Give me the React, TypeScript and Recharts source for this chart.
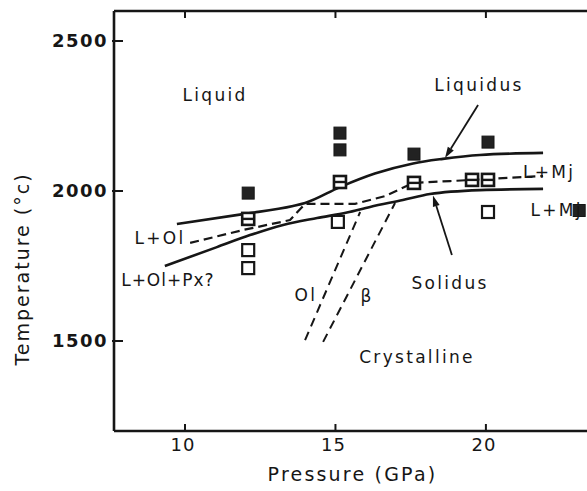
import React from 'react';
import {
  ComposedChart,
  Line,
  Scatter,
  XAxis,
  YAxis,
  ReferenceLine,
  ReferenceDot,
} from 'recharts';

// Axis ticks
const pressureTicks = [10, 15, 20];
const temperatureTicks = [1500, 2000, 2500];
const frameTop = 2600;

// Phase boundaries (P in GPa, T in °C)
const liquidus = [
  { p: 9.73, t: 1890 },
  { p: 11.93, t: 1923 },
  { p: 13.59, t: 1950 },
  { p: 13.99, t: 1960 },
  { p: 15.15, t: 2013 },
  { p: 16.31, t: 2058 },
  { p: 17.58, t: 2092 },
  { p: 18.57, t: 2107 },
  { p: 19.8, t: 2120 },
  { p: 21.9, t: 2127 },
];

const solidus = [
  { p: 9.33, t: 1750 },
  { p: 11.06, t: 1813 },
  { p: 12.16, t: 1853 },
  { p: 13.26, t: 1887 },
  { p: 14.39, t: 1910 },
  { p: 15.38, t: 1928 },
  { p: 16.15, t: 1947 },
  { p: 17.24, t: 1970 },
  { p: 18.14, t: 1990 },
  { p: 19.8, t: 2003 },
  { p: 21.9, t: 2007 },
];

const olivineOut = [
  { p: 10.17, t: 1827 },
  { p: 11.93, t: 1870 },
  { p: 13.49, t: 1903 },
  { p: 13.99, t: 1957 },
  { p: 15.65, t: 1957 },
  { p: 16.65, t: 1983 },
  { p: 17.58, t: 2027 },
  { p: 18.81, t: 2033 },
  { p: 21.9, t: 2050 },
];

const olBetaLow = [
  { p: 13.99, t: 1503 },
  { p: 15.82, t: 1930 },
];

const olBetaHigh = [
  { p: 14.59, t: 1497 },
  { p: 16.98, t: 1960 },
];

// Experimental runs
const liquidRuns = [
  { p: 12.1, t: 1993 },
  { p: 15.15, t: 2193 },
  { p: 15.15, t: 2137 },
  { p: 17.61, t: 2123 },
  { p: 20.07, t: 2163 },
  { p: 23.1, t: 1935 },
];

const partialRuns = [
  { p: 12.1, t: 1907 },
  { p: 15.15, t: 2030 },
  { p: 17.61, t: 2027 },
  { p: 19.54, t: 2037 },
  { p: 20.07, t: 2037 },
];

const solidRuns = [
  { p: 12.1, t: 1803 },
  { p: 12.1, t: 1743 },
  { p: 15.08, t: 1897 },
  { p: 20.07, t: 1930 },
];

// Field labels
const fieldLabels = [
  { text: 'Liquid', p: 11.0, t: 2320 },
  { text: 'Liquidus', p: 19.77, t: 2353 },
  { text: 'Solidus', p: 18.81, t: 1693 },
  { text: 'Crystalline', p: 17.71, t: 1447 },
  { text: 'Ol', p: 14.02, t: 1653 },
  { text: 'β', p: 16.05, t: 1650 },
  { text: 'L+Ol', p: 9.17, t: 1843 },
  { text: 'L+Ol+Px?', p: 9.43, t: 1703 },
  { text: 'L+Mj', p: 22.1, t: 2063 },
  { text: 'L+Mj', p: 22.35, t: 1937 },
];

const liquidusArrow = [
  { x: 19.74, y: 2287 },
  { x: 18.64, y: 2110 },
];
const solidusArrow = [
  { x: 18.87, y: 1787 },
  { x: 18.24, y: 1985 },
];

const INK = '#161616';
const FONT = '"DejaVu Sans", sans-serif';

const BottomTick = ({ x, y, payload }: any) => (
  <g>
    <line x1={x} y1={y} x2={x} y2={y - 7} stroke={INK} strokeWidth={2} />
    <text x={x - 2} y={y + 20} textAnchor="middle" fontSize={18} letterSpacing={1} fill={INK} fontFamily={FONT}>
      {payload.value}
    </text>
  </g>
);

const LeftTick = ({ x, y, payload }: any) => (
  <g>
    <line x1={x - 2} y1={y} x2={x + 9} y2={y} stroke={INK} strokeWidth={2} />
    <text
      x={x - 6}
      y={y}
      dy="0.36em"
      textAnchor="end"
      fontSize={18}
      fontWeight="bold"
      letterSpacing={1.5}
      fill={INK}
      fontFamily={FONT}
    >
      {payload.value}
    </text>
  </g>
);

// top frame tick: short inward stroke
const TopTickShape = ({ x1, y1 }: any) => (
  <line x1={x1} y1={y1} x2={x1} y2={y1 + 7} stroke={INK} strokeWidth={2} />
);

const FilledSquare = ({ cx, cy }: any) => (
  <rect x={cx - 6} y={cy - 6} width={12} height={12} fill="#222" stroke={INK} strokeWidth={1} />
);

const SplitSquare = ({ cx, cy }: any) => (
  <g>
    <rect x={cx - 6} y={cy - 6} width={12} height={12} fill="#fff" stroke={INK} strokeWidth={2.6} />
    <line x1={cx - 6} y1={cy} x2={cx + 6} y2={cy} stroke={INK} strokeWidth={2.4} />
  </g>
);

const OpenSquare = ({ cx, cy }: any) => (
  <rect x={cx - 6} y={cy - 6} width={12} height={12} fill="#fff" stroke={INK} strokeWidth={2.2} />
);

const Arrow = ({ x1, y1, x2, y2 }: any) => {
  const ang = Math.atan2(y2 - y1, x2 - x1);
  const len = 11;
  const half = 3.5;
  const bx = x2 - len * Math.cos(ang);
  const by = y2 - len * Math.sin(ang);
  const nx = -Math.sin(ang) * half;
  const ny = Math.cos(ang) * half;
  return (
    <g>
      <line x1={x1} y1={y1} x2={bx} y2={by} stroke={INK} strokeWidth={1.8} />
      <polygon points={`${x2},${y2} ${bx + nx},${by + ny} ${bx - nx},${by - ny}`} fill={INK} />
    </g>
  );
};

const FieldText = (text: string) => ({ cx, cy }: any) => (
  <text
    x={cx}
    y={cy}
    dy="0.36em"
    textAnchor="middle"
    fontSize={17}
    letterSpacing={text.length > 6 && text.includes('+') ? 1 : 2.3}
    fill={INK}
    fontFamily={FONT}
  >
    {text}
  </text>
);

export default function App() {
  return (
    <div style={{ position: 'absolute', left: 0, top: 0, width: 587, height: 491, background: '#fff', fontFamily: FONT }}>
      <ComposedChart width={587} height={491} margin={{ top: 11, right: 0, bottom: 0, left: 0 }}>
        <XAxis
          type="number"
          dataKey="p"
          domain={[7.64, 23.36]}
          ticks={pressureTicks}
          allowDataOverflow
          height={60}
          tickSize={0}
          tickMargin={0}
          tickLine={false}
          tick={BottomTick}
          axisLine={{ stroke: INK, strokeWidth: 2.6 }}
          label={{
            content: ({ viewBox }: any) => (
              <text
                x={viewBox.x + viewBox.width / 2 + 2}
                y={viewBox.y + 50}
                textAnchor="middle"
                fontSize={19}
                letterSpacing={2.2}
                fill={INK}
                fontFamily={FONT}
              >
                Pressure (GPa)
              </text>
            ),
          }}
        />
        <YAxis
          type="number"
          dataKey="t"
          domain={[1200, 2600]}
          ticks={temperatureTicks}
          allowDataOverflow
          width={114}
          tickSize={0}
          tickMargin={0}
          tickLine={false}
          tick={LeftTick}
          axisLine={{ stroke: INK, strokeWidth: 2.6 }}
          label={{
            content: ({ viewBox }: any) => {
              const cx = viewBox.x + 22;
              const cy = viewBox.y + viewBox.height / 2 + 48;
              return (
                <text
                  transform={`translate(${cx},${cy}) rotate(-90)`}
                  dy="0.36em"
                  textAnchor="middle"
                  fontSize={19}
                  letterSpacing={2}
                  fill={INK}
                  fontFamily={FONT}
                >
                  Temperature (°c)
                </text>
              );
            },
          }}
        />

        {/* top frame with inward ticks */}
        <ReferenceLine y={frameTop} stroke={INK} strokeWidth={2.4} ifOverflow="visible" />
        {pressureTicks.map((p) => (
          <ReferenceLine
            key={`top-${p}`}
            segment={[{ x: p, y: frameTop }, { x: p, y: frameTop - 20 }]}
            shape={TopTickShape}
            ifOverflow="visible"
          />
        ))}

        <Line data={liquidus} dataKey="t" type="monotone" stroke={INK} strokeWidth={2.6} dot={false} activeDot={false} isAnimationActive={false} />
        <Line data={solidus} dataKey="t" type="monotone" stroke={INK} strokeWidth={2.6} dot={false} activeDot={false} isAnimationActive={false} />
        <Line data={olivineOut} dataKey="t" type="linear" stroke={INK} strokeWidth={2.2} strokeDasharray="9 5" dot={false} activeDot={false} isAnimationActive={false} />
        <Line data={olBetaLow} dataKey="t" type="linear" stroke={INK} strokeWidth={2} strokeDasharray="9 6" dot={false} activeDot={false} isAnimationActive={false} />
        <Line data={olBetaHigh} dataKey="t" type="linear" stroke={INK} strokeWidth={2} strokeDasharray="9 6" dot={false} activeDot={false} isAnimationActive={false} />

        <Scatter data={solidRuns} dataKey="t" shape={OpenSquare} isAnimationActive={false} />
        <Scatter data={partialRuns} dataKey="t" shape={SplitSquare} isAnimationActive={false} />
        <Scatter data={liquidRuns} dataKey="t" shape={FilledSquare} isAnimationActive={false} />

        <ReferenceLine segment={liquidusArrow} shape={Arrow} ifOverflow="visible" />
        <ReferenceLine segment={solidusArrow} shape={Arrow} ifOverflow="visible" />

        {fieldLabels.map((l, i) => (
          <ReferenceDot key={i} x={l.p} y={l.t} r={1} ifOverflow="visible" shape={FieldText(l.text)} />
        ))}
      </ComposedChart>
    </div>
  );
}
